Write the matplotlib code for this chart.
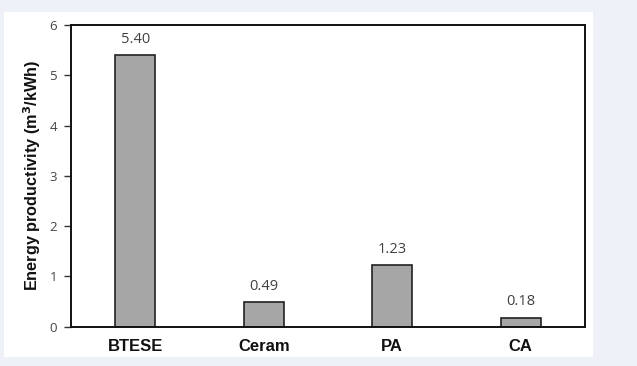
import matplotlib
matplotlib.use("Agg")
import matplotlib.pyplot as plt
from matplotlib.patches import Rectangle

categories = ["BTESE", "Ceram", "PA", "CA"]
values = [5.40, 0.49, 1.23, 0.18]
yticks = [0, 1, 2, 3, 4, 5, 6]

W, H = 637, 366
fig = plt.figure(figsize=(W / 100, H / 100), dpi=100)
fig.patch.set_facecolor("#eef2f8")
# white panel behind the chart
fig.patches.append(Rectangle((4 / W, 1 - 357 / H), 589 / W, 345 / H,
                             transform=fig.transFigure, facecolor="white",
                             edgecolor="none", zorder=-5))

ax = fig.add_axes([71 / W, 1 - 326.7 / H, 514 / W, 301.7 / H])
ax.set_facecolor("white")
x = range(len(categories))
ax.bar(x, values, width=0.31, color="#a6a6a6", edgecolor="#222222", linewidth=1.2, zorder=2)
for i, v in zip(x, values):
    ax.annotate(f"{v:.2f}", (i, v), xytext=(0, 6), textcoords="offset points",
                ha="center", va="bottom", fontsize=10.5, color="#404040", family="Open Sans")

ax.set_xlim(-0.5, 3.5)
ax.set_ylim(0, 6)
ax.set_yticks(yticks)
ax.set_yticklabels([str(t) for t in yticks], fontsize=9.5, color="#444444", family="Open Sans")
ax.set_xticks(list(x))
ax.set_xticklabels(categories, fontsize=12, fontweight="bold", family="Liberation Sans", color="#111111")
ax.tick_params(axis="x", length=0, pad=9)
ax.tick_params(axis="y", direction="out", length=5, width=1, color="#333333", pad=5)
for s in ax.spines.values():
    s.set_linewidth(1.4)
    s.set_color("#111111")
ax.set_ylabel("Energy productivity (m$^\\mathbf{3}$/kWh)", fontsize=11.7, fontweight="bold",
              family="Liberation Sans", color="#111111", labelpad=5)

fig.savefig("out.png", dpi=100, facecolor=fig.get_facecolor())
